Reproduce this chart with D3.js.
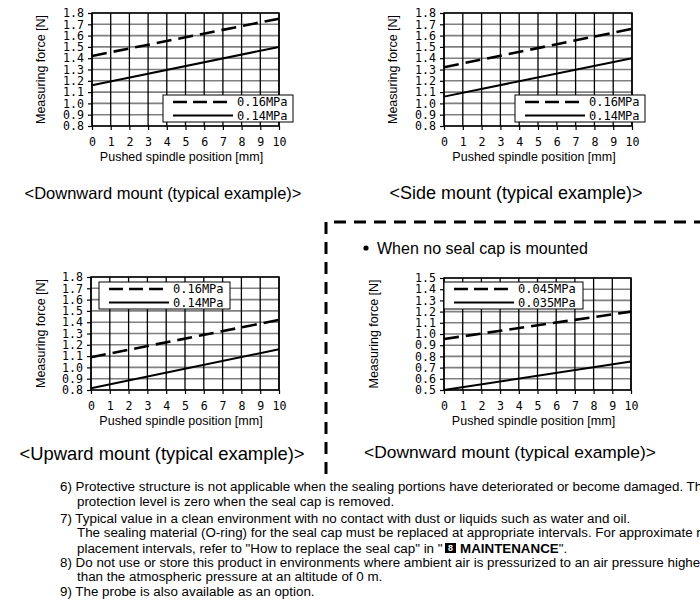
<!DOCTYPE html>
<html>
<head>
<meta charset="utf-8">
<script src="https://cdn.jsdelivr.net/npm/d3@7"></script>
<style>
body { margin: 0; background: #fff; }
svg { display: block; }
</style>
</head>
<body>
<div id="chart"></div>
<script>
// spindle positions [mm] where the lines are read
var positions = [0, 10];
var xTicks = [0, 1, 2, 3, 4, 5, 6, 7, 8, 9, 10];

// measuring force [N]
var downHigh = [1.42, 1.75];
var downLow = [1.16, 1.50];
var sideHigh = [1.32, 1.66];
var sideLow = [1.06, 1.40];
var upHigh = [1.09, 1.42];
var upLow = [0.815, 1.16];
var capHigh = [0.955, 1.20];
var capLow = [0.50, 0.755];

var pressureLabels = ["0.16MPa", "0.14MPa"];
var capPressureLabels = ["0.045MPa", "0.035MPa"];

var captions = ["<Downward mount (typical example)>", "<Side mount (typical example)>",
  "<Upward mount (typical example)>", "<Downward mount (typical example)>"];

var notes = [
  "6) Protective structure is not applicable when the sealing portions have deteriorated or become damaged. The",
  "protection level is zero when the seal cap is removed.",
  "7) Typical value in a clean environment with no contact with dust or liquids such as water and oil.",
  "The sealing material (O-ring) for the seal cap must be replaced at appropriate intervals. For approximate re-",
  "placement intervals, refer to \"How to replace the seal cap\" in \"",
  "8) Do not use or store this product in environments where ambient air is pressurized to an air pressure higher",
  "than the atmospheric pressure at an altitude of 0 m.",
  "9) The probe is also available as an option."
];

var width = 700, height = 603;
var svg = d3.select("#chart").append("svg").attr("width", width).attr("height", height);

var charts = [
  {L: 92, R: 279, T: 13, B: 126, domain: [0.8, 1.8], high: downHigh, low: downLow, labels: pressureLabels,
   lx: 163, ly: 95, lw: 130, titleX: 40, caption: captions[0], cx: 163, cy: 193, cs: 16.5},
  {L: 444, R: 632, T: 13, B: 126, domain: [0.8, 1.8], high: sideHigh, low: sideLow, labels: pressureLabels,
   lx: 515, ly: 95, lw: 130, titleX: 392, caption: captions[1], cx: 516, cy: 193, cs: 18},
  {L: 91, R: 279, T: 277, B: 390, domain: [0.8, 1.8], high: upHigh, low: upLow, labels: pressureLabels,
   lx: 99, ly: 282, lw: 131, titleX: 40, caption: captions[2], cx: 162, cy: 454, cs: 18.4},
  {L: 444, R: 631, T: 278, B: 390, domain: [0.5, 1.5], high: capHigh, low: capLow, labels: capPressureLabels,
   lx: 444, ly: 282, lw: 139, titleX: 373, caption: captions[3], cx: 510, cy: 452, cs: 17.4}
];

charts.forEach(drawChart);

function drawChart(c) {
  var g = svg.append("g");
  var x = d3.scaleLinear().domain([0, 10]).range([c.L, c.R]);
  var y = d3.scaleLinear().domain(c.domain).range([c.B, c.T]);
  var yTicks = y.ticks(10);

  // grid
  g.append("g").selectAll("line").data(yTicks).join("line")
    .attr("x1", c.L).attr("x2", c.R)
    .attr("y1", function(d){ return y(d); }).attr("y2", function(d){ return y(d); })
    .attr("stroke", "#808080").attr("stroke-width", 1.6);
  g.append("g").selectAll("line").data(xTicks).join("line")
    .attr("x1", function(d){ return x(d); }).attr("x2", function(d){ return x(d); })
    .attr("y1", c.T).attr("y2", c.B)
    .attr("stroke", "#000").attr("stroke-width", 1.3);
  g.append("rect").attr("x", c.L).attr("y", c.T).attr("width", c.R - c.L).attr("height", c.B - c.T)
    .attr("fill", "none").attr("stroke", "#000").attr("stroke-width", 1.5);

  var yaxis = d3.axisLeft(y).tickValues(yTicks).tickSize(4).tickPadding(4).tickFormat(d3.format(".1f"));
  var xaxis = d3.axisBottom(x).tickValues(xTicks).tickSize(4).tickPadding(8);
  var ya = g.append("g").attr("transform", "translate(" + c.L + ",0)").call(yaxis);
  var xa = g.append("g").attr("transform", "translate(0," + c.B + ")").call(xaxis);
  [ya, xa].forEach(function(a){
    a.select(".domain").remove();
    a.selectAll(".tick line").attr("stroke", "#000").attr("stroke-width", 1.2);
    a.selectAll("text").attr("font-family", "DejaVu Sans Mono").attr("font-size", 11.6).attr("fill", "#000");
  });

  // data lines
  var line = d3.line().x(function(d, i){ return x(positions[i]); }).y(function(d){ return y(d); });
  g.append("path").datum(c.high).attr("d", line).attr("fill", "none")
    .attr("stroke", "#000").attr("stroke-width", 2.6).attr("stroke-dasharray", "15,7");
  g.append("path").datum(c.low).attr("d", line).attr("fill", "none")
    .attr("stroke", "#000").attr("stroke-width", 2);

  // legend
  var lg = g.append("g").attr("transform", "translate(" + c.lx + "," + c.ly + ")");
  lg.append("rect").attr("width", c.lw).attr("height", 27).attr("fill", "#fff")
    .attr("stroke", "#000").attr("stroke-width", 1);
  c.labels.forEach(function(lab, i){
    var yy = 7 + i * 13.5;
    lg.append("line").attr("x1", 10).attr("x2", 70).attr("y1", yy).attr("y2", yy)
      .attr("stroke", "#000").attr("stroke-width", i === 0 ? 2.6 : 2)
      .attr("stroke-dasharray", i === 0 ? "14,6" : null);
    lg.append("text").attr("x", 74).attr("y", yy).attr("dy", "0.35em")
      .attr("font-family", "DejaVu Sans Mono").attr("font-size", 12).text(lab);
  });

  // titles
  g.append("text").attr("x", (c.L + c.R) / 2 - 4).attr("y", c.B + 35)
    .attr("text-anchor", "middle").attr("font-family", "Liberation Sans, Arial").attr("font-size", 12.5)
    .text("Pushed spindle position [mm]");
  g.append("text").attr("transform", "translate(" + (c.titleX + 4.5) + "," + ((c.T + c.B) / 2) + ") rotate(-90)")
    .attr("text-anchor", "middle").attr("font-family", "Liberation Sans, Arial").attr("font-size", 12.5)
    .text("Measuring force [N]");
  g.append("text").attr("x", c.cx).attr("y", c.cy + 6).attr("text-anchor", "middle")
    .attr("font-family", "Liberation Sans, Arial").attr("font-size", c.cs).text(c.caption);
}

// dashed frame round the no-seal-cap chart
svg.append("path").attr("d", "M326,474 L326,222 L700,222").attr("fill", "none")
  .attr("stroke", "#000").attr("stroke-width", 3).attr("stroke-dasharray", "12,8");
svg.append("circle").attr("cx", 366).attr("cy", 248).attr("r", 2.6).attr("fill", "#000");
svg.append("text").attr("x", 377).attr("y", 254).attr("font-family", "Liberation Sans, Arial")
  .attr("font-size", 16).text("When no seal cap is mounted");

// footnotes
var noteY = [491, 506, 523, 537, 553, 567, 581, 596];
var indent = [false, true, false, true, true, false, true, false];
var ng = svg.append("g").attr("font-family", "Liberation Sans, Arial").attr("font-size", 13.5).attr("fill", "#000");
var texts = notes.map(function(n, i){
  return ng.append("text").attr("y", noteY[i]).text(n);
});
// horizontal squeeze so the 5th line runs from x=77 to about x=440 as in the reference
var w5 = texts[4].node().getComputedTextLength();
var sx = 366 / w5;
var ind = 17 / sx;
texts.forEach(function(t, i){ t.attr("x", indent[i] ? ind : 0); });
ng.attr("transform", "translate(60,0) scale(" + sx + ",1)");
var ix = ind + w5 + 2 / sx;
ng.append("rect").attr("x", ix).attr("y", noteY[4] - 10).attr("width", 11 / sx).attr("height", 10).attr("fill", "#000");
ng.append("text").attr("x", ix + 5.5 / sx).attr("y", noteY[4] - 1.5).attr("text-anchor", "middle")
  .attr("font-size", 9).attr("font-weight", "bold").attr("fill", "#fff").text("8");
texts[4].append("tspan").attr("x", ix + 15 / sx).attr("font-weight", "bold").text("MAINTENANCE");
texts[4].append("tspan").text("\".");
</script>
</body>
</html>
